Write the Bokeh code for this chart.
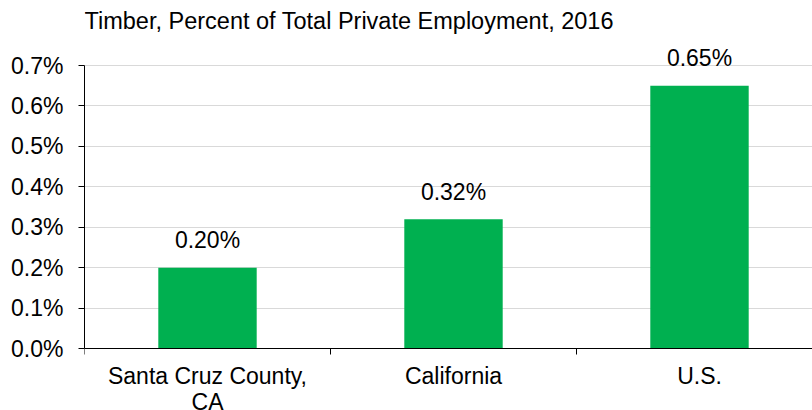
from bokeh.plotting import figure
from bokeh.models import Range1d, FixedTicker, Label, LabelSet, ColumnDataSource
from bokeh.core.properties import value
from bokeh.embed import file_html
from bokeh.resources import INLINE

# ---- data ----
categories = ["Santa Cruz County,\nCA", "California", "U.S."]
values = [0.20, 0.32, 0.65]          # percent of total private employment
value_labels = ["0.20%", "0.32%", "0.65%"]
y_ticks = [0.0, 0.1, 0.2, 0.3, 0.4, 0.5, 0.6, 0.7]
y_tick_labels = ["0.0%", "0.1%", "0.2%", "0.3%", "0.4%", "0.5%", "0.6%", "0.7%"]
title_text = "Timber, Percent of Total Private Employment, 2016"

FONT = "Liberation Sans"
BAR = "#00B050"

# ---- layout (pixels) ----
W, H = 812, 410
LEFT = 84            # plot-area left edge
Y0_PX = 348          # pixel row of 0.0%
Y7_PX = 65           # pixel row of 0.7%
CAT_PX = 246         # width of one category slot

y_max = y_ticks[-1]
px_per_unit = (Y0_PX - Y7_PX) / y_max
y_start = -(H - Y0_PX) / px_per_unit
y_end = Y0_PX / px_per_unit
x_end = (W - LEFT) / CAT_PX

centers = [i + 0.5 for i in range(len(categories))]
boundaries = [float(i) for i in range(len(categories) + 1)]

p = figure(width=W, height=H,
           x_range=Range1d(0, x_end), y_range=Range1d(y_start, y_end),
           output_backend="svg", toolbar_location=None,
           min_border_left=LEFT, min_border_right=0,
           min_border_top=0, min_border_bottom=0)
p.outline_line_color = None
p.background_fill_color = "white"
p.border_fill_color = "white"

# bars
p.vbar(x=centers, top=values, bottom=0, width=0.4, fill_color=BAR, line_color=None)

# y axis
p.yaxis.ticker = FixedTicker(ticks=y_ticks)
p.yaxis.bounds = (0, y_max)
p.yaxis.major_label_overrides = {t: l for t, l in zip(y_ticks, y_tick_labels)}
p.yaxis.major_label_text_font = FONT
p.yaxis.major_label_text_font_size = "23px"
p.yaxis.major_label_text_color = "#000000"
p.yaxis.major_label_standoff = 15
p.yaxis.major_tick_out = 6
p.yaxis.major_tick_in = 0
p.yaxis.minor_tick_line_color = None
p.yaxis.axis_line_color = "#000000"
p.yaxis.major_tick_line_color = "#000000"

# x axis at y = 0: category names at slot centres, ticks at slot boundaries
p.xaxis.fixed_location = 0
p.xaxis.ticker = FixedTicker(ticks=centers, minor_ticks=boundaries)
p.xaxis.major_label_overrides = {c: n for c, n in zip(centers, categories)}
p.xaxis.major_label_text_font = FONT
p.xaxis.major_label_text_font_size = "23px"
p.xaxis.major_label_text_color = "#000000"
p.xaxis.major_label_text_line_height = 1.0
p.xaxis.major_label_standoff = 8
p.xaxis.major_tick_out = 0
p.xaxis.major_tick_in = 0
p.xaxis.major_tick_line_color = None
p.xaxis.minor_tick_out = 6
p.xaxis.minor_tick_in = 0
p.xaxis.minor_tick_line_color = "#000000"
p.xaxis.axis_line_color = "#000000"

# grid
p.xgrid.grid_line_color = None
p.ygrid.ticker = FixedTicker(ticks=y_ticks)
p.ygrid.grid_line_color = "#D9D9D9"
p.ygrid.grid_line_width = 1

# value labels
src = ColumnDataSource(dict(x=centers, y=values, t=value_labels))
p.add_layout(LabelSet(x="x", y="y", text="t", source=src, y_offset=27.5,
                      text_font=value(FONT), text_font_size=value("23px"),
                      text_color="#000000",
                      text_align="center", text_baseline="middle"))

# title
p.add_layout(Label(x=0, y=y_max, x_offset=0, y_offset=45, text=title_text,
                   text_font=FONT, text_font_size="23.5px", text_color="#000000",
                   text_align="left", text_baseline="middle"))

open("out.html", "w").write(file_html(p, INLINE))
